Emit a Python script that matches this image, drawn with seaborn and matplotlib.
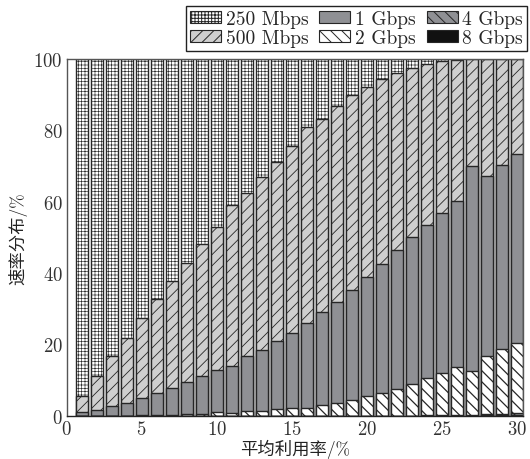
import numpy as np
import pandas as pd
import matplotlib
matplotlib.use("Agg")
import matplotlib.pyplot as plt
import matplotlib.patches as mpatches
import seaborn as sns

# Average link utilisation (%) for each bar
utilization = list(range(1, 31))

rate_labels = ["250 Mbps", "500 Mbps", "1 Gbps", "2 Gbps", "4 Gbps", "8 Gbps"]

# Share (%) of links running at each rate, per utilisation bin
share_250m = [94.6, 88.8, 83.4, 78.1, 72.6, 67.3, 62.3, 57.2, 52.0, 47.0,
              41.0, 37.5, 33.0, 28.8, 24.3, 19.2, 16.7, 13.1, 10.1, 7.8,
              5.7, 4.0, 2.6, 1.5, 0.7, 0.4, 0.0, 0.0, 0.0, 0.0]
share_500m = [4.4, 9.6, 14.0, 18.2, 22.5, 26.3, 29.9, 33.4, 37.0, 40.3,
              45.0, 45.9, 48.5, 50.3, 52.6, 54.9, 54.1, 55.1, 54.6, 53.4,
              51.8, 49.5, 47.4, 45.0, 42.5, 39.5, 29.9, 32.7, 29.6, 26.6]
share_1g = [1.0, 1.6, 2.6, 3.7, 4.8, 6.2, 7.5, 8.9, 10.4, 11.8,
            13.2, 15.2, 17.1, 18.9, 20.9, 23.7, 26.2, 28.1, 30.9, 33.4,
            36.2, 39.0, 41.2, 43.0, 44.7, 46.5, 57.5, 50.5, 51.8, 53.0]
share_2g = [0.0, 0.0, 0.0, 0.0, 0.1, 0.2, 0.3, 0.5, 0.6, 0.9,
            0.8, 1.4, 1.4, 2.0, 2.2, 2.2, 3.0, 3.7, 4.4, 5.4,
            6.3, 7.5, 8.8, 10.4, 11.9, 13.4, 12.3, 16.4, 18.0, 19.6]
share_4g = [0.0] * 23 + [0.1, 0.2, 0.2, 0.3, 0.3, 0.4, 0.5]
share_8g = [0.0] * 27 + [0.1, 0.2, 0.3]

sns.set_theme(style="white")
plt.rcParams["font.family"] = ["cmr10", "Noto Sans CJK SC", "DejaVu Sans"]
plt.rcParams["axes.formatter.use_mathtext"] = True
plt.rcParams["hatch.linewidth"] = 0.7

EDGE = "#262626"
styles = {
    "250 Mbps": dict(color="#ffffff", hatch="+++++", hlw=0.45),
    "500 Mbps": dict(color="#cfcfcf", hatch="///", hlw=0.6),
    "1 Gbps":   dict(color="#8f9094", hatch="", hlw=0.7),
    "2 Gbps":   dict(color="#ffffff", hatch="\\\\\\", hlw=0.9),
    "4 Gbps":   dict(color="#8f9094", hatch="\\\\\\", hlw=0.9),
    "8 Gbps":   dict(color="#111111", hatch="", hlw=0.7),
}


def set_hatch_width(patch, width):
    if hasattr(patch, "set_hatch_linewidth"):
        patch.set_hatch_linewidth(width)
    else:
        patch._hatch_linewidth = width


fig = plt.figure(figsize=(5.3, 4.6), dpi=100)
ax = fig.add_axes([66.7 / 530, 1 - 416.7 / 460, (523.3 - 66.7) / 530, (416.7 - 60) / 460])

# Stack from the bottom (fastest rate) upwards
bottom_up = [share_8g, share_4g, share_2g, share_1g, share_500m, share_250m]
bottom_up_labels = rate_labels[::-1]
cum = np.cumsum(np.array(bottom_up), axis=0)

# Draw cumulative heights from the top layer down; each lower layer covers the one above
for idx in reversed(range(len(bottom_up))):
    lab = bottom_up_labels[idx]
    df = pd.DataFrame({"util": utilization, "cum": cum[idx]})
    n_before = len(ax.patches)
    sns.barplot(data=df, x="util", y="cum", native_scale=True, width=0.8,
                saturation=1, color=styles[lab]["color"], hatch=styles[lab]["hatch"],
                edgecolor=EDGE, linewidth=1.0, errorbar=None, ax=ax)
    for p in ax.patches[n_before:]:
        set_hatch_width(p, styles[lab]["hlw"])

ax.set_xlim(0, 30.45)
ax.set_ylim(0, 100)
ax.set_xticks([0, 5, 10, 15, 20, 25, 30])
ax.set_yticks([0, 20, 40, 60, 80, 100])
ax.tick_params(axis="both", direction="in", length=3, width=0.8, color="#444444",
               labelsize=13.5, labelcolor="#333333", pad=3)
for side in ["left", "right", "top", "bottom"]:
    ax.spines[side].set_visible(True)
    ax.spines[side].set_color("#555555")
    ax.spines[side].set_linewidth(1.0)
ax.spines["bottom"].set_color("#222222")

ax.set_xlabel("平均利用率/%", fontsize=12.5, color="#222222", labelpad=1)
ax.set_ylabel("速率分布/%", fontsize=12.5, color="#222222", labelpad=4)

handles = []
for l in rate_labels:
    h = mpatches.Patch(facecolor=styles[l]["color"], hatch=styles[l]["hatch"],
                       edgecolor=EDGE, linewidth=0.8, label=l)
    set_hatch_width(h, styles[l]["hlw"])
    handles.append(h)
leg = fig.legend(handles=handles, labels=rate_labels, ncol=3, loc="upper right",
                 bbox_to_anchor=(527 / 530, 1 - 7 / 460), frameon=True, fancybox=False,
                 edgecolor="#222222", framealpha=1, fontsize=14, borderpad=0.2,
                 labelspacing=0.05, handlelength=1.6, handleheight=0.6,
                 handletextpad=0.25, columnspacing=0.55, borderaxespad=0)
leg.get_frame().set_linewidth(1.0)

fig.savefig("out.png", dpi=100)
